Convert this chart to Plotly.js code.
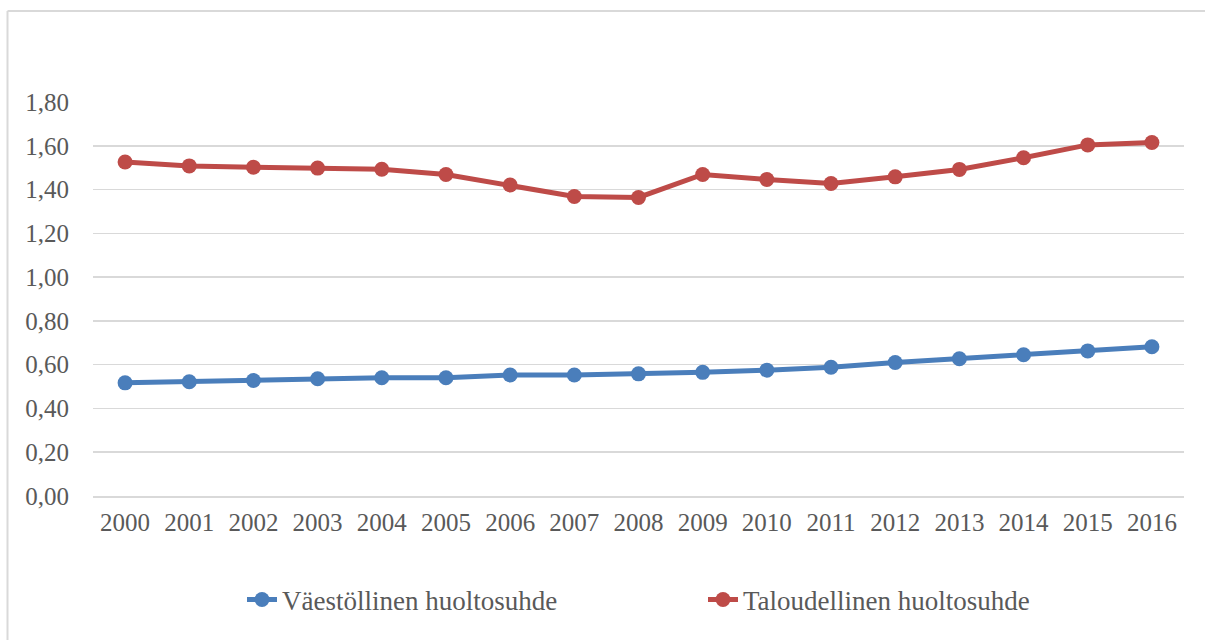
<!DOCTYPE html>
<html>
<head>
<meta charset="utf-8">
<script src="https://cdn.plot.ly/plotly-3.0.1.min.js"></script>
<style>html,body{margin:0;padding:0;background:#fff;}#chart{width:1205px;height:640px;}</style>
</head>
<body>
<div id="chart"></div>
<script>
const years = ['2000','2001','2002','2003','2004','2005','2006','2007','2008','2009','2010','2011','2012','2013','2014','2015','2016'];
const vaestollinen = [0.517,0.522,0.528,0.536,0.540,0.540,0.553,0.553,0.558,0.565,0.575,0.588,0.610,0.627,0.645,0.663,0.682];
const taloudellinen = [1.526,1.508,1.502,1.498,1.493,1.469,1.421,1.368,1.364,1.469,1.446,1.428,1.458,1.492,1.545,1.604,1.615];
const seriesNames = ['Väestöllinen huoltosuhde','Taloudellinen huoltosuhde'];
const yTickVals = [0,0.2,0.4,0.6,0.8,1.0,1.2,1.4,1.6,1.8];
const yTickText = ['0,00','0,20','0,40','0,60','0,80','1,00','1,20','1,40','1,60','1,80'];

const W = 1205, H = 640;
const mL = 93, mR = 21, mT = 102, mB = 144;
const pw = W - mL - mR, ph = H - mT - mB;
const px = v => (v - mL) / pw;
const py = v => (H - mB - v) / ph;

const font = 'Liberation Serif, Times New Roman, serif';
const traces = [
  {x: years, y: vaestollinen, name: seriesNames[0], type: 'scatter', mode: 'lines+markers', legend: 'legend',
   line: {color: '#4A7EBB', width: 5}, marker: {color: '#4A7EBB', size: 15}},
  {x: years, y: taloudellinen, name: seriesNames[1], type: 'scatter', mode: 'lines+markers', legend: 'legend2',
   line: {color: '#BE4B48', width: 5}, marker: {color: '#BE4B48', size: 15}}
];
const legFont = {family: font, size: 27, color: '#595959'};
const layout = {
  width: W, height: H,
  margin: {l: mL, r: mR, t: mT, b: mB},
  paper_bgcolor: '#fff', plot_bgcolor: '#fff',
  font: {family: font, size: 26, color: '#595959'},
  showlegend: true,
  legend: {orientation: 'h', x: px(242), xanchor: 'left', y: py(600), yanchor: 'middle', font: legFont, bgcolor: 'rgba(0,0,0,0)'},
  legend2: {orientation: 'h', x: px(703), xanchor: 'left', y: py(600), yanchor: 'middle', font: legFont, bgcolor: 'rgba(0,0,0,0)'},
  xaxis: {type: 'category', range: [-0.5, 16.5], showgrid: false, showline: true, linecolor: '#d9d9d9', linewidth: 1.5,
          ticks: 'outside', ticklen: 3, tickcolor: 'rgba(0,0,0,0)', tickfont: {family: font, size: 25, color: '#595959'}, fixedrange: true},
  yaxis: {range: [0, 1.8], tickvals: yTickVals, ticktext: yTickText, showgrid: true, gridcolor: '#d9d9d9', gridwidth: 1.5,
          zeroline: false, showline: false, ticks: 'outside', ticklen: 18, tickcolor: 'rgba(0,0,0,0)',
          tickfont: {family: font, size: 25, color: '#595959'}, fixedrange: true},
  shapes: [
    {type: 'line', xref: 'paper', yref: 'paper', x0: px(7.5), x1: px(7.5), y0: py(11), y1: py(H), line: {color: '#d9d9d9', width: 2}},
    {type: 'line', xref: 'paper', yref: 'paper', x0: px(7.5), x1: px(W), y0: py(11), y1: py(11), line: {color: '#d9d9d9', width: 2}}
  ]
};
Plotly.newPlot('chart', traces, layout, {staticPlot: true, displayModeBar: false});
</script>
</body>
</html>
